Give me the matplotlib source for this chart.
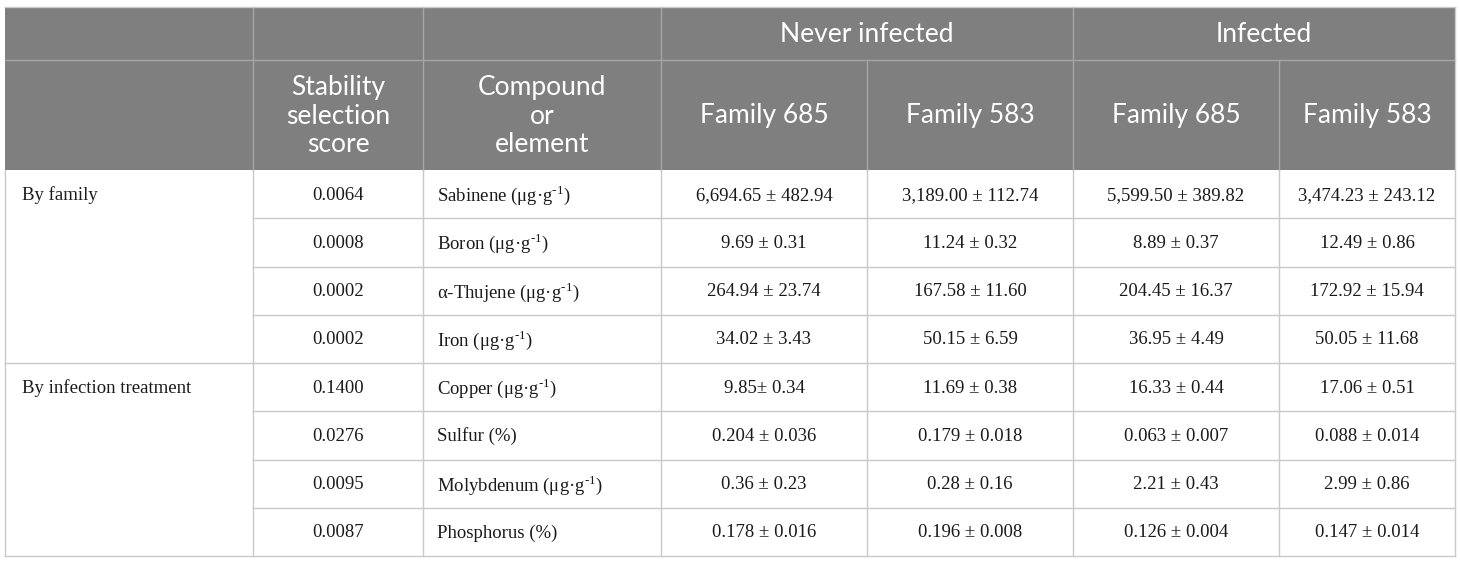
import matplotlib
matplotlib.use("Agg")
import matplotlib.pyplot as plt

plt.rcParams['mathtext.fontset'] = 'custom'
plt.rcParams['mathtext.rm'] = 'Liberation Serif'

# table content
groups = ["By family", "By infection treatment"]
group_sizes = [4, 4]
scores = ["0.0064", "0.0008", "0.0002", "0.0002",
          "0.1400", "0.0276", "0.0095", "0.0087"]
UG = r" (μg·g$^{\text{-1}}$)"
compounds = ["Sabinene" + UG, "Boron" + UG, "α-Thujene" + UG, "Iron" + UG,
             "Copper" + UG, "Sulfur (%)", "Molybdenum" + UG, "Phosphorus (%)"]
never_685 = ["6,694.65 ± 482.94", "9.69 ± 0.31", "264.94 ± 23.74", "34.02 ± 3.43",
             "9.85± 0.34", "0.204 ± 0.036", "0.36 ± 0.23", "0.178 ± 0.016"]
never_583 = ["3,189.00 ± 112.74", "11.24 ± 0.32", "167.58 ± 11.60", "50.15 ± 6.59",
             "11.69 ± 0.38", "0.179 ± 0.018", "0.28 ± 0.16", "0.196 ± 0.008"]
inf_685 = ["5,599.50 ± 389.82", "8.89 ± 0.37", "204.45 ± 16.37", "36.95 ± 4.49",
           "16.33 ± 0.44", "0.063 ± 0.007", "2.21 ± 0.43", "0.126 ± 0.004"]
inf_583 = ["3,474.23 ± 243.12", "12.49 ± 0.86", "172.92 ± 15.94", "50.05 ± 11.68",
           "17.06 ± 0.51", "0.088 ± 0.014", "2.99 ± 0.86", "0.147 ± 0.014"]
top_headers = ["Never infected", "Infected"]
sub_headers = ["", "Stability\nselection\nscore", "Compound\nor\nelement",
               "Family 685", "Family 583", "Family 685", "Family 583"]

# layout (pixels)
col_x = [5, 253, 423, 661, 867, 1073, 1279, 1455]
y_top, y_h1, y_h2, y_bot = 7, 60, 170, 556
n_rows = len(scores)
row_h = (y_bot - y_h2) / n_rows

HEAD_BG = "#7f7f7f"
HEAD_LINE = "#a6a6a6"
GRID = "#c9c9c9"
head_font = dict(family="Lato", size=19, color="white")
body_font = dict(family="Liberation Serif", size=13.5, color="#1a1a1a")

fig = plt.figure(figsize=(14.6, 5.64), dpi=100)
ax = fig.add_axes([0, 0, 1, 1])
ax.set_xlim(0, 1460)
ax.set_ylim(564, 0)
ax.axis("off")

# header background
ax.add_patch(plt.Rectangle((col_x[0], y_top), col_x[-1] - col_x[0], y_h2 - y_top,
                           facecolor=HEAD_BG, edgecolor="none", zorder=0))

# header lines
ax.plot([col_x[0], col_x[-1]], [y_h1, y_h1], color=HEAD_LINE, lw=1)
for i in [1, 2, 3, 5]:
    ax.plot([col_x[i], col_x[i]], [y_top, y_h1], color=HEAD_LINE, lw=1)
for i in range(1, 7):
    ax.plot([col_x[i], col_x[i]], [y_h1, y_h2], color=HEAD_LINE, lw=1)

# header text
ax.text((col_x[3] + col_x[5]) / 2, (y_top + y_h1) / 2 + 1, top_headers[0],
        ha="center", va="center", **head_font)
ax.text((col_x[5] + col_x[7]) / 2, (y_top + y_h1) / 2 + 1, top_headers[1],
        ha="center", va="center", **head_font)
for i, label in enumerate(sub_headers):
    ax.text((col_x[i] + col_x[i + 1]) / 2, (y_h1 + y_h2) / 2 + 1, label,
            ha="center", va="center", linespacing=1.2, **head_font)

# body grid
ax.plot([col_x[0], col_x[0]], [y_h2, y_bot], color=GRID, lw=1)
ax.plot([col_x[-1], col_x[-1]], [y_top, y_bot], color=GRID, lw=1)
ax.plot([col_x[0], col_x[-1]], [y_top, y_top], color=GRID, lw=1)
for i in range(1, 7):
    ax.plot([col_x[i], col_x[i]], [y_h2, y_bot], color=GRID, lw=1)
for r in range(1, n_rows + 1):
    y = y_h2 + r * row_h
    ax.plot([col_x[1], col_x[-1]], [y, y], color=GRID, lw=1)
start = 0
for size in group_sizes:
    start += size
    y = y_h2 + start * row_h
    ax.plot([col_x[0], col_x[1]], [y, y], color=GRID, lw=1)

# body text
start = 0
for g, size in zip(groups, group_sizes):
    ax.text(col_x[0] + 17, y_h2 + start * row_h + row_h / 2 + 1, g,
            ha="left", va="center", **body_font)
    start += size

columns = [scores, compounds, never_685, never_583, inf_685, inf_583]
for r in range(n_rows):
    yc = y_h2 + r * row_h + row_h / 2 + 1
    for c, col in enumerate(columns):
        ci = c + 1
        if ci == 2:
            ax.text(col_x[ci] + 14, yc, col[r], ha="left", va="center", **body_font)
        else:
            ax.text((col_x[ci] + col_x[ci + 1]) / 2, yc, col[r],
                    ha="center", va="center", **body_font)

fig.savefig("out.png", dpi=100)
